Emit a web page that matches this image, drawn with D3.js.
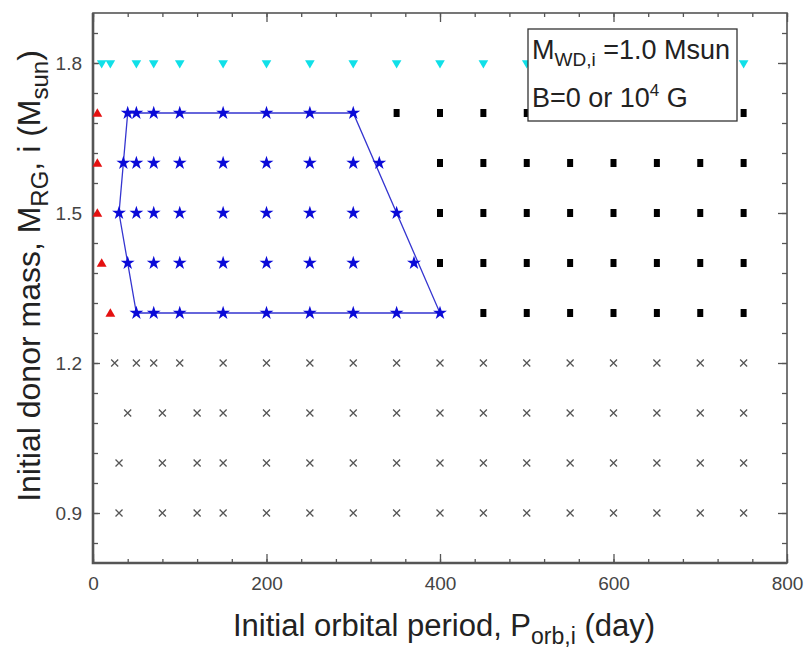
<!DOCTYPE html>
<html lang="en">
<head>
    <meta charset="UTF-8" />
    <title>Initial donor mass vs initial orbital period</title>
    <script src="https://cdn.jsdelivr.net/npm/d3@7"></script>
    <style>
        body, html {
            margin: 0;
            padding: 0;
            background: #fff;
            font-family: "Liberation Sans", Arial, sans-serif;
        }
        .axis path, .axis line {
            stroke: #555;
        }
        .axis text {
            font-size: 19px;
            fill: #444;
            font-family: "Liberation Sans", Arial, sans-serif;
        }
    </style>
</head>
<body>
    <div id="chart"></div>

    <script>
        // tick labels
        const xTickLabels = [0, 200, 400, 600, 800];
        const yTickLabels = [0.9, 1.2, 1.5, 1.8];

        // cyan down triangles, all at 1.8 Msun
        const cyanMass = 1.8;
        const cyanPeriods = [10, 20, 50, 70, 100, 150, 200, 250, 300, 350, 400, 450, 500, 550, 600, 650, 700, 750];

        // red triangles
        const redPeriods = [5, 5, 5, 10, 20];
        const redMasses = [1.7, 1.6, 1.5, 1.4, 1.3];

        // blue stars, one list per mass row
        const starMasses = [1.7, 1.6, 1.5, 1.4, 1.3];
        const starPeriods = [
            [40, 50, 70, 100, 150, 200, 250, 300],
            [35, 50, 70, 100, 150, 200, 250, 300, 330],
            [30, 50, 70, 100, 150, 200, 250, 300, 350],
            [40, 70, 100, 150, 200, 250, 300, 370],
            [50, 70, 100, 150, 200, 250, 300, 350, 400]
        ];

        // black squares
        const squareMasses = [1.7, 1.6, 1.5, 1.4, 1.3];
        const squarePeriods = [
            [350, 400, 450, 500, 550, 600, 650, 700, 750],
            [400, 450, 500, 550, 600, 650, 700, 750],
            [400, 450, 500, 550, 600, 650, 700, 750],
            [400, 450, 500, 550, 600, 650, 700, 750],
            [450, 500, 550, 600, 650, 700, 750]
        ];

        // grey crosses
        const crossMasses = [1.2, 1.1, 1.0, 0.9];
        const crossPeriods = [
            [25, 50, 70, 100, 150, 200, 250, 300, 350, 400, 450, 500, 550, 600, 650, 700, 750],
            [40, 80, 120, 150, 200, 250, 300, 350, 400, 450, 500, 550, 600, 650, 700, 750],
            [30, 80, 120, 150, 200, 250, 300, 350, 400, 450, 500, 550, 600, 650, 700, 750],
            [30, 80, 120, 150, 200, 250, 300, 350, 400, 450, 500, 550, 600, 650, 700, 750]
        ];

        // boundary polygon around the stars
        const boundaryPeriods = [40, 300, 400, 50, 30, 40];
        const boundaryMasses = [1.7, 1.7, 1.3, 1.3, 1.5, 1.7];

        const width = 808;
        const height = 650;
        const margin = {top: 13, right: 21, bottom: 87, left: 93};

        const svg = d3.select("#chart").append("svg")
            .attr("width", width)
            .attr("height", height);

        const x = d3.scaleLinear()
            .domain([0, 800])
            .range([margin.left, width - margin.right]);

        const y = d3.scaleLinear()
            .domain([0.8, 1.9])
            .range([height - margin.bottom, margin.top]);

        const xMinor = d3.range(0, 801, 40);
        const yMinor = d3.range(14, 32).map(i => +(i * 0.06).toFixed(2)).filter(v => v > 0.8 && v < 1.9);

        // axes (ticks inward)
        function addAxis(axis, transform, labels) {
            const g = svg.append("g")
                .attr("class", "axis")
                .attr("transform", transform)
                .call(axis);
            g.select(".domain").remove();
            if (!labels) g.selectAll("text").remove();
            g.selectAll("line").attr("stroke-width", 1.3);
            return g;
        }

        const bottomY = height - margin.bottom;
        const rightX = width - margin.right;

        addAxis(d3.axisBottom(x).tickValues(xMinor).tickSize(-4).tickFormat(""), `translate(0,${bottomY})`, false);
        addAxis(d3.axisBottom(x).tickValues(xTickLabels).tickSize(-9).tickPadding(14).tickFormat(d3.format("d")), `translate(0,${bottomY})`, true);
        addAxis(d3.axisTop(x).tickValues(xMinor).tickSize(-4).tickFormat(""), `translate(0,${margin.top})`, false);
        addAxis(d3.axisTop(x).tickValues(xTickLabels).tickSize(-9).tickFormat(""), `translate(0,${margin.top})`, false);

        addAxis(d3.axisLeft(y).tickValues(yMinor).tickSize(-5).tickFormat(""), `translate(${margin.left},0)`, false);
        addAxis(d3.axisLeft(y).tickValues(yTickLabels).tickSize(-7).tickPadding(11).tickFormat(d3.format(".1f")), `translate(${margin.left},0)`, true);
        addAxis(d3.axisRight(y).tickValues(yMinor).tickSize(-5).tickFormat(""), `translate(${rightX},0)`, false);
        addAxis(d3.axisRight(y).tickValues(yTickLabels).tickSize(-9).tickFormat(""), `translate(${rightX},0)`, false);

        // frame
        svg.append("rect")
            .attr("x", margin.left)
            .attr("y", margin.top)
            .attr("width", rightX - margin.left)
            .attr("height", bottomY - margin.top)
            .attr("fill", "none")
            .attr("stroke", "#555")
            .attr("stroke-width", 1.6);
        svg.append("path")
            .attr("d", `M${margin.left},${margin.top}V${bottomY}H${rightX}`)
            .attr("fill", "none")
            .attr("stroke", "#555")
            .attr("stroke-width", 2.6);

        const plot = svg.append("g");

        // boundary line
        const line = d3.line()
            .x((d, i) => x(boundaryPeriods[i]))
            .y((d, i) => y(boundaryMasses[i]));
        plot.append("path")
            .attr("d", line(boundaryPeriods))
            .attr("fill", "none")
            .attr("stroke", "#3535d0")
            .attr("stroke-width", 1.3);

        // crosses
        const crossPts = crossMasses.flatMap((m, i) => crossPeriods[i].map(p => ({p, m})));
        plot.selectAll(".cross")
            .data(crossPts)
            .enter().append("path")
            .attr("class", "cross")
            .attr("transform", d => `translate(${x(d.p)},${y(d.m)})`)
            .attr("d", "M-3.5,-3.5L3.5,3.5M-3.5,3.5L3.5,-3.5")
            .attr("stroke", "#555")
            .attr("stroke-width", 1.3)
            .attr("fill", "none");

        // squares
        const squarePts = squareMasses.flatMap((m, i) => squarePeriods[i].map(p => ({p, m})));
        plot.selectAll(".sq")
            .data(squarePts)
            .enter().append("rect")
            .attr("class", "sq")
            .attr("x", d => x(d.p) - 3)
            .attr("y", d => y(d.m) - 4)
            .attr("width", 6)
            .attr("height", 8)
            .attr("fill", "#000");

        // stars
        const starPts = starMasses.flatMap((m, i) => starPeriods[i].map(p => ({p, m})));
        plot.selectAll(".star")
            .data(starPts)
            .enter().append("path")
            .attr("class", "star")
            .attr("transform", d => `translate(${x(d.p)},${y(d.m)})`)
            .attr("d", d3.symbol().type(d3.symbolStar).size(60))
            .attr("fill", "#0a0ad8");

        // red triangles
        plot.selectAll(".red")
            .data(redPeriods)
            .enter().append("path")
            .attr("class", "red")
            .attr("transform", (d, i) => `translate(${x(d)},${y(redMasses[i]) + 1})`)
            .attr("d", d3.symbol().type(d3.symbolTriangle).size(42))
            .attr("fill", "#e41010");

        // cyan down triangles
        plot.selectAll(".cyan")
            .data(cyanPeriods)
            .enter().append("path")
            .attr("class", "cyan")
            .attr("transform", d => `translate(${x(d)},${y(cyanMass)}) rotate(180)`)
            .attr("d", d3.symbol().type(d3.symbolTriangle).size(40))
            .attr("fill", "#10e0e8");

        // annotation box
        const box = svg.append("g");
        box.append("rect")
            .attr("x", 528)
            .attr("y", 29)
            .attr("width", 209)
            .attr("height", 92)
            .attr("fill", "#fff")
            .attr("stroke", "#333")
            .attr("stroke-width", 1.3);
        const t1 = box.append("text")
            .attr("x", 532)
            .attr("y", 59)
            .attr("font-size", 27)
            .attr("fill", "#222");
        t1.append("tspan").text("M");
        t1.append("tspan").attr("font-size", 19).attr("dy", 7).text("WD,i");
        t1.append("tspan").attr("dy", -7).text(" =1.0 Msun");
        const t2 = box.append("text")
            .attr("x", 532)
            .attr("y", 107)
            .attr("font-size", 27)
            .attr("fill", "#222");
        t2.append("tspan").text("B=0 or 10");
        t2.append("tspan").attr("font-size", 17).attr("dy", -11).text("4");
        t2.append("tspan").attr("dy", 11).text(" G");

        // axis titles
        const xt = svg.append("text")
            .attr("x", 444)
            .attr("y", 636)
            .attr("text-anchor", "middle")
            .attr("font-size", 31)
            .attr("fill", "#222");
        xt.append("tspan").text("Initial orbital period, P");
        xt.append("tspan").attr("font-size", 23).attr("dy", 8).text("orb,i");
        xt.append("tspan").attr("dy", -8).text(" (day)");

        const yt = svg.append("text")
            .attr("transform", "translate(40,276) rotate(-90)")
            .attr("text-anchor", "middle")
            .attr("font-size", 32)
            .attr("fill", "#222");
        yt.append("tspan").text("Initial donor mass, M");
        yt.append("tspan").attr("font-size", 24).attr("dy", 8).text("RG");
        yt.append("tspan").attr("dy", -8).text(", i (M");
        yt.append("tspan").attr("font-size", 24).attr("dy", 8).text("sun");
        yt.append("tspan").attr("dy", -8).text(")");
    </script>
</body>
</html>
